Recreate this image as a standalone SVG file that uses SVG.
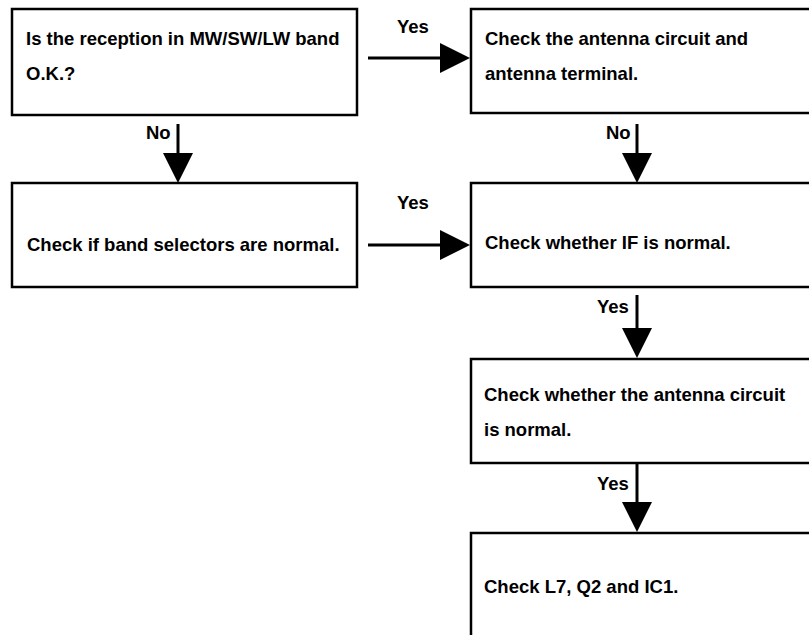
<svg xmlns="http://www.w3.org/2000/svg" width="809" height="635" viewBox="0 0 809 635">
<style>
.box{fill:#fff;stroke:#000;stroke-width:2.5}
.t{font-family:"Liberation Sans",Arial,sans-serif;font-weight:bold;font-size:18.5px;fill:#000}
.c{stroke:#000;stroke-width:3;fill:none}
</style>
<defs>
<marker id="ah" viewBox="0 0 30 30" refX="2" refY="15" markerWidth="30" markerHeight="30" markerUnits="userSpaceOnUse" orient="auto">
<path d="M0,0 L30,15 L0,30 Z" fill="#000"/>
</marker>
</defs>
<rect width="809" height="635" fill="#fff"/>
<g id="n1"><rect class="box" x="12" y="9" width="345" height="106"/><text class="t" x="26" y="45">Is the reception in MW/SW/LW band</text><text class="t" x="26" y="80">O.K.?</text></g>
<g id="n2"><rect class="box" x="471" y="9" width="350" height="104"/><text class="t" x="485" y="45">Check the antenna circuit and</text><text class="t" x="485" y="80">antenna terminal.</text></g>
<g id="n3"><rect class="box" x="12" y="183" width="345" height="104"/><text class="t" x="27" y="251">Check if band selectors are normal.</text></g>
<g id="n4"><rect class="box" x="471" y="183" width="350" height="104"/><text class="t" x="485" y="249">Check whether IF is normal.</text></g>
<g id="n5"><rect class="box" x="471" y="359" width="350" height="104"/><text class="t" x="484" y="401">Check whether the antenna circuit</text><text class="t" x="484" y="436">is normal.</text></g>
<g id="n6"><rect class="box" x="471" y="533" width="350" height="120"/><text class="t" x="484" y="593">Check L7, Q2 and IC1.</text></g>
<g id="connectors">
<path class="c" d="M368,58 H442" marker-end="url(#ah)"/>
<path class="c" d="M368,245 H442" marker-end="url(#ah)"/>
<path class="c" d="M178,124 V155" marker-end="url(#ah)"/>
<path class="c" d="M637,124 V155" marker-end="url(#ah)"/>
<path class="c" d="M637,295 V330" marker-end="url(#ah)"/>
<path class="c" d="M637,463 V504" marker-end="url(#ah)"/>
<text class="t" x="397" y="33">Yes</text>
<text class="t" x="397" y="209">Yes</text>
<text class="t" x="146" y="139">No</text>
<text class="t" x="606" y="139">No</text>
<text class="t" x="597" y="313">Yes</text>
<text class="t" x="597" y="490">Yes</text>
</g>
</svg>
